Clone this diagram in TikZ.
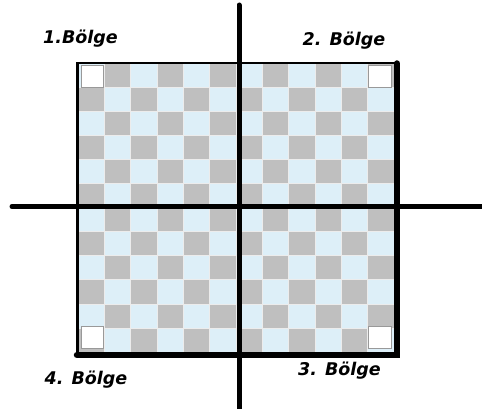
\documentclass[tikz,border=0pt]{standalone}
\usepackage{fontspec}
\newfontfamily\bolgefont{DejaVu Sans}
\usepackage{tikz}

\definecolor{karegri}{HTML}{BFBFBF}
\definecolor{karemavi}{HTML}{DDEFF8}

\begin{document}
\begin{tikzpicture}[
    x=1pt, y=-1pt,
    hucre/.style={draw=white!85!gray, line width=0.5pt},
    kutu/.style={draw=gray!80, fill=white, line width=0.9pt},
    etiket/.style={font=\bolgefont\bfseries\itshape\fontsize{17.5}{20}\selectfont,
        inner sep=0pt},
    eksen/.style={line width=5pt, line cap=round}
]
    \useasboundingbox (0,0) rectangle (482,409);

    % dama deseni, 12 x 12
    \foreach \i in {0,...,11}
        \foreach \j in {0,...,11}{
            \pgfmathtruncatemacro\renk{mod(\i+\j,2)}
            \ifnum\renk=1
                \filldraw[hucre, fill=karegri] ({78+\i*26.33},{63+\j*24.08}) rectangle +(26.33,24.08);
            \else
                \filldraw[hucre, fill=karemavi] ({78+\i*26.33},{63+\j*24.08}) rectangle +(26.33,24.08);
            \fi
        }

    % beyaz kutular
    \draw[kutu] (81,65) rectangle (103,87);
    \draw[kutu] (368,65) rectangle (391,87);
    \draw[kutu] (81,326) rectangle (103,348);
    \draw[kutu] (368,326) rectangle (391,348);

    % cerceve
    \draw[line width=2.5pt] (77.5,63) rectangle (397,355);
    \draw[line width=6.5pt, line cap=round] (397,63.5) -- (397,355) -- (77,355);

    % eksenler
    \coordinate (ust) at (239,5);
    \coordinate (alt) at (239,412);
    \coordinate (sol) at (12,206.5);
    \coordinate (sag) at (486,206.5);
    \draw[eksen] (ust) -- (alt);
    \draw[eksen] (sol) -- (sag);

    \node[etiket] (b1) at (80.5,39) {1.Bölge};
    \node[etiket] (b2) at (344,41) {2. Bölge};
    \node[etiket] (b3) at (339.5,371) {3. Bölge};
    \node[etiket] (b4) at (86,380) {4. Bölge};
\end{tikzpicture}
\end{document}
